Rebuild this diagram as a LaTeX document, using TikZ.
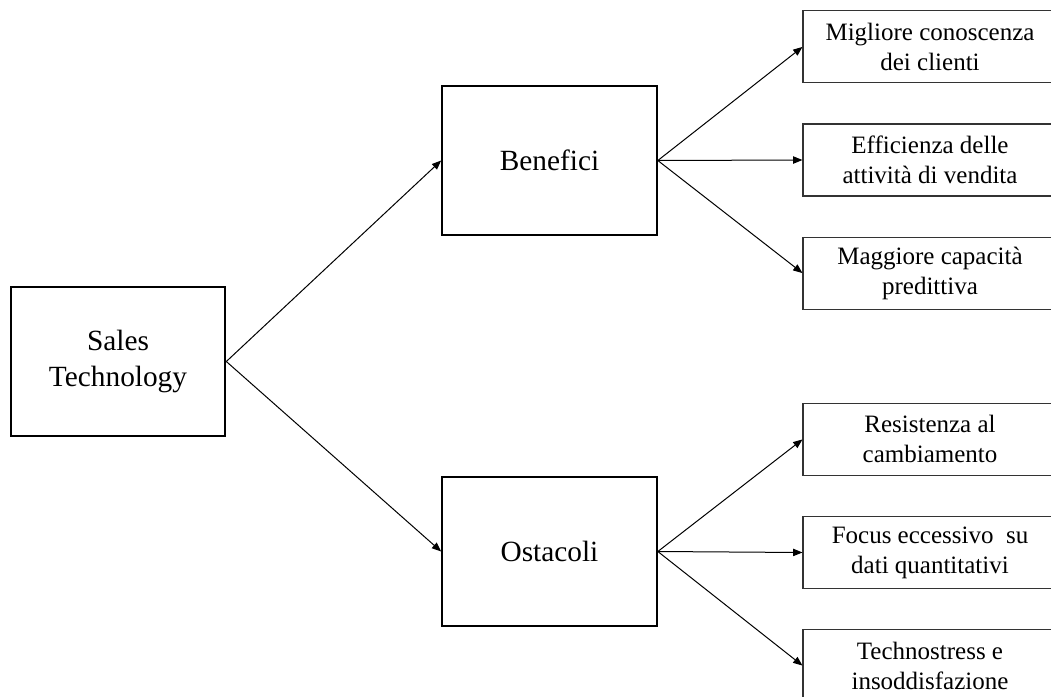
\documentclass[tikz,border=0pt]{standalone}
\usepackage{fontspec}
\setmainfont{Liberation Serif}
\usetikzlibrary{arrows.meta,positioning}

\begin{document}
\begin{tikzpicture}[x=0.75pt,y=-0.75pt,
  >={Triangle[length=7pt,width=5.5pt]},
  main/.style={draw,line width=1.5pt,minimum width=161pt,minimum height=111.5pt,align=center,font=\fontsize{22}{27.5}\selectfont},
  leaf/.style={draw=black!80,line width=0.8pt,minimum width=190.5pt,minimum height=54pt,align=center,inner sep=2pt,font=\fontsize{18.75}{22.5}\selectfont},
  link/.style={->,line width=0.75pt}]
\useasboundingbox (0,0) rectangle (1051,697);
\clip (0,0) rectangle (1051,697);
% --- root and its two branches ---
\node[main] (sales) at (118,361.5) {Sales\\Technology};
\node[main] (ben)   at (549.5,160.5) {Benefici};
\node[main] (ost)   at (549.5,551.5) {Ostacoli};
% --- benefici: three leaves ---
\node[leaf] (eff) at (930,160) {Efficienza delle\\attività di vendita};
\node[leaf,above=30pt of eff] (mig)  {Migliore conoscenza\\dei clienti};
\node[leaf,below=30pt of eff] (pred) {Maggiore capacità\\predittiva};
% --- ostacoli: three leaves ---
\node[leaf] (focus) at (930,552.5) {Focus eccessivo\ \ su\\dati quantitativi};
\node[leaf,above=30pt of focus] (res)    {Resistenza al\\cambiamento};
\node[leaf,below=30pt of focus] (techno) {Technostress e\\insoddisfazione};
% --- connectors ---
\draw[link] (sales.east) -- (ben.west);
\draw[link] (sales.east) -- (ost.west);
\foreach \t in {mig,eff,pred} \draw[link] (ben.east) -- (\t.west);
\foreach \t in {res,focus,techno} \draw[link] (ost.east) -- (\t.west);
\end{tikzpicture}
\end{document}
